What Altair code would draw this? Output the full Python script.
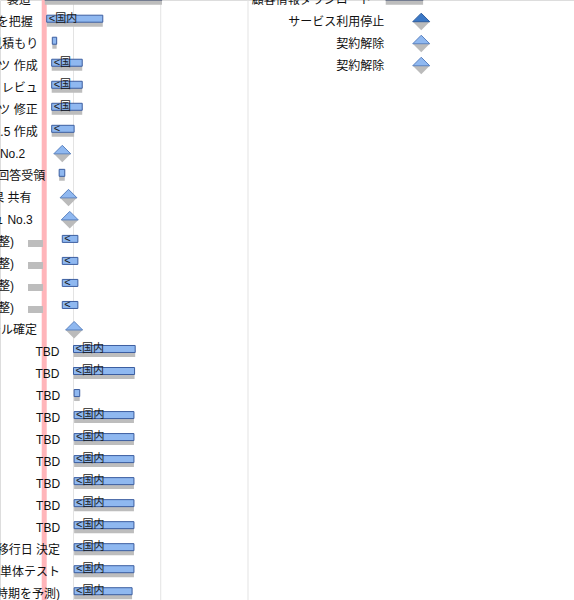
import altair as alt
import pandas as pd

# ---- data (x in days relative to the first grid line, y = row index) ----
task_rows = [0, 1, 2, 3, 4, 5, 6, 7, 8, 9, 10, 11, 12, 13, 14, 15,
             16, 17, 18, 19, 20, 21, 22, 23, 24, 25, 26, 27,
             0, 1, 2, 3]
task_labels = ["製造", "現状を把握", "概算見積もり", "コンテンツ 作成", "コンテンツ レビュ",
               "コンテンツ 修正", "資料 1.5 作成", "定例会 No.2", "質問 回答受領", "結果 共有",
               "レビュ No.3", "(調整)", "(調整)", "(調整)", "(調整)", "スケジュール確定",
               "TBD", "TBD", "TBD", "TBD", "TBD", "TBD", "TBD", "TBD", "TBD",
               "本番移行日 決定", "実装・単体テスト", "(完了時期を予測)",
               "顧客情報ダウンロード", "サービス利用停止", "契約解除", "契約解除"]
task_kinds = ["done", "task", "task", "task", "task", "task", "task", "milestone", "task",
              "milestone", "milestone", "task", "task", "task", "task", "milestone",
              "task", "task", "task", "task", "task", "task", "task", "task", "task",
              "task", "task", "task",
              "done", "milestone_crit", "milestone", "milestone"]
task_start = [-2.3, -2.15, -1.7, -1.75, -1.75, -1.75, -1.75, -0.9, -1.15, -0.4, -0.3,
              -0.9, -0.9, -0.9, -0.9, 0.05,
              0.0, 0.0, 0.05, 0.05, 0.05, 0.05, 0.05, 0.05, 0.05, 0.05, 0.05, 0.05,
              25.05, 27.9, 27.9, 27.9]
task_end = [7.1, 2.35, -1.35, 0.7, 0.7, 0.7, 0.05, -0.9, -0.7, -0.4, -0.3,
            0.35, 0.35, 0.35, 0.35, 0.05,
            4.95, 4.9, 0.5, 4.85, 4.85, 4.85, 4.85, 4.85, 4.85, 4.85, 4.85, 4.7,
            28.05, 27.9, 27.9, 27.9]
shadow_start = [-2.3, -2.15, -1.7, -1.75, -1.75, -1.75, -1.75, -0.9, -1.15, -0.4, -0.3,
                -3.65, -3.65, -3.65, -3.65, 0.05,
                0.0, 0.0, 0.05, 0.05, 0.05, 0.05, 0.05, 0.05, 0.05, 0.05, 0.05, 0.05,
                25.05, 27.9, 27.9, 27.9]
shadow_end = [7.1, 2.35, -1.35, 0.7, 0.7, 0.7, 0.05, -0.9, -0.7, -0.4, -0.3,
              -2.45, -2.45, -2.45, -2.45, 0.05,
              4.95, 4.9, 0.5, 4.85, 4.85, 4.85, 4.85, 4.85, 4.85, 4.85, 4.85, 4.7,
              28.05, 27.9, 27.9, 27.9]
inner_texts = ["", "<国内", "", "<国", "<国", "<国", "<", "", "", "", "",
               "<", "<", "<", "<", "",
               "<国内", "<国内", "", "<国内", "<国内", "<国内", "<国内", "<国内", "<国内",
               "<国内", "<国内", "<国内",
               "", "", "", ""]

grid_days = [0, 7, 14]
today_day = [-2.35]

kind_domain = ["task", "done", "milestone", "milestone_crit"]
fill_range = ["#8fb8f0", "#a4adc0", "#8fb8f0", "#3b78c6"]
stroke_range = ["#3c5ea0", "#55607a", "#5a82c0", "#2d5c9e"]

df = pd.DataFrame({
    "row": task_rows, "label": task_labels, "kind": task_kinds,
    "start": task_start, "end": task_end,
    "s_start": shadow_start, "s_end": shadow_end, "inner": inner_texts,
})

FONT = "Liberation Sans, Noto Sans CJK JP"
xs = alt.Scale(domain=[-5.897, 40.156], nice=False, zero=False, padding=0)
ys = alt.Scale(domain=[0.0145, 27.263], nice=False, zero=False, reverse=True, padding=0)
Y = alt.Y("row:Q", scale=ys, axis=None)
fill_enc = alt.Fill("kind:N", scale=alt.Scale(domain=kind_domain, range=fill_range), legend=None)
stroke_enc = alt.Stroke("kind:N", scale=alt.Scale(domain=kind_domain, range=stroke_range), legend=None)

UPPER = "M-1,0L0,-1L1,0Z"
LOWER = "M-1,0L0,1L1,0Z"

grid = alt.Chart(pd.DataFrame({"d": grid_days})).mark_rule(
    color="#e3e3e3", strokeWidth=1).encode(x=alt.X("d:Q", scale=xs, axis=None))
today = alt.Chart(pd.DataFrame({"d": today_day})).mark_rule(
    color="#ffb5ba", strokeWidth=5).encode(x=alt.X("d:Q", scale=xs, axis=None))

base = alt.Chart(df)
bars = base.transform_filter("datum.kind == 'task' || datum.kind == 'done'")
mss = base.transform_filter("datum.kind == 'milestone' || datum.kind == 'milestone_crit'")

shadow = bars.mark_bar(orient="horizontal", size=7, yOffset=1.5, color="#bdbdbd").encode(
    x=alt.X("s_start:Q", scale=xs, axis=None), x2="s_end:Q", y=Y)
blue = bars.mark_bar(orient="horizontal", size=7, yOffset=-3, strokeWidth=1).encode(
    x=alt.X("start:Q", scale=xs, axis=None), x2="end:Q", y=Y, fill=fill_enc, stroke=stroke_enc)
ms_low = mss.mark_point(shape=LOWER, size=289, filled=True, opacity=1, color="#bbbbbb").encode(
    x=alt.X("start:Q", scale=xs, axis=None), y=Y)
ms_up = mss.mark_point(shape=UPPER, size=289, filled=True, opacity=1, strokeWidth=1).encode(
    x=alt.X("start:Q", scale=xs, axis=None), y=Y, fill=fill_enc, stroke=stroke_enc)

inner = bars.transform_filter("datum.inner != ''").mark_text(
    align="left", baseline="middle", dx=2, dy=-3, fontSize=11, color="#1a1a1a", font=FONT).encode(
    x=alt.X("start:Q", scale=xs, axis=None), y=Y, text="inner:N")
bar_labels = bars.mark_text(
    align="right", baseline="middle", dx=-14, fontSize=12, color="#111111", font=FONT).encode(
    x=alt.X("s_start:Q", scale=xs, axis=None), y=Y, text="label:N")
ms_labels = mss.mark_text(
    align="right", baseline="middle", dx=-37, fontSize=12, color="#111111", font=FONT).encode(
    x=alt.X("start:Q", scale=xs, axis=None), y=Y, text="label:N")

chart = alt.layer(grid, today, shadow, blue, ms_low, ms_up, inner, bar_labels, ms_labels).properties(
    width=574, height=600, autosize="none", padding=0
).configure_view(stroke=None).configure(background="white")

chart.save("out.html", embed_options={"renderer": "svg", "actions": False})
